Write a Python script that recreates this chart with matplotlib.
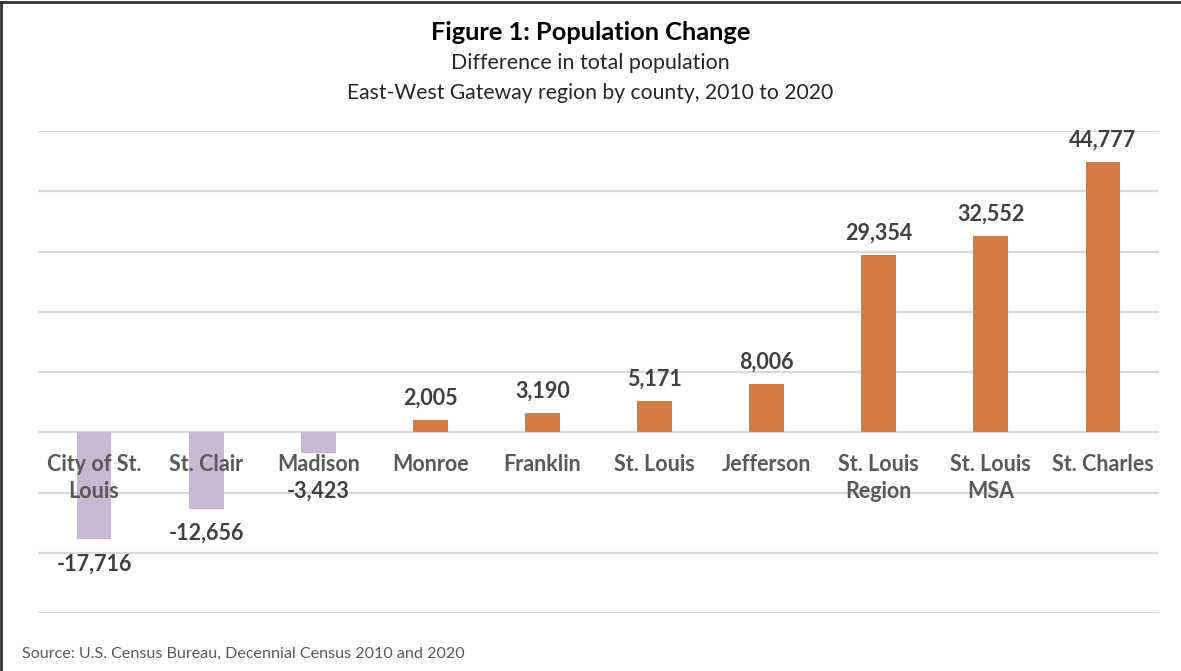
import matplotlib.pyplot as plt
import matplotlib.lines as mlines

# Population change by county, 2010 to 2020
counties = ['City of St.\nLouis', 'St. Clair', 'Madison', 'Monroe', 'Franklin',
            'St. Louis', 'Jefferson', 'St. Louis\nRegion', 'St. Louis\nMSA', 'St. Charles']
change = [-17716, -12656, -3423, 2005, 3190, 5171, 8006, 29354, 32552, 44777]

orange = '#D27B45'
purple = '#C9B8D3'

plt.rcParams['font.family'] = ['Lato', 'DejaVu Sans']

fig = plt.figure(figsize=(11.81, 6.71), dpi=100)
ax = fig.add_axes([38 / 1181, 1 - 613 / 671, 1121 / 1181, 482 / 671])

x = list(range(len(counties)))
colors = [purple if v < 0 else orange for v in change]
ax.bar(x, change, width=0.31, color=colors, zorder=2)

ax.set_xlim(-0.5, len(counties) - 0.5)
ax.set_ylim(-30000, 50000)
ax.set_yticks(range(-30000, 50001, 10000))
ax.yaxis.grid(True, color='#D9D9D9', linewidth=1.6, zorder=0)
ax.set_yticklabels([])
ax.tick_params(left=False, bottom=False, labelbottom=False)
for s in ax.spines.values():
    s.set_visible(False)

# category names sit just under the zero line
for i, name in enumerate(counties):
    ax.text(i, -3550, name, ha='center', va='top', fontsize=15.5,
            fontweight='bold', color='#595959', linespacing=1.4, zorder=3)

# value labels above positive bars, below negative ones (kept clear of the names)
for i, v in enumerate(change):
    if v >= 0:
        ypos = v + 3650
    else:
        ypos = min(v - 4150, -9800)
    ax.text(i, ypos, f'{v:,}', ha='center', va='center', fontsize=15.5,
            fontweight='bold', color='#404040', zorder=3)

fig.text(0.5, 1 - 33 / 671, 'Figure 1: Population Change', ha='center', va='center',
         fontsize=18.3, fontweight='bold', color='black')
fig.text(0.5, 1 - 63 / 671, 'Difference in total population', ha='center', va='center',
         fontsize=15.4, color='#262626')
fig.text(0.5, 1 - 93 / 671, 'East-West Gateway region by county, 2010 to 2020',
         ha='center', va='center', fontsize=15.2, color='#262626')
fig.text(22 / 1181, 1 - 654 / 671, 'Source: U.S. Census Bureau, Decennial Census 2010 and 2020',
         ha='left', va='center', fontsize=11.6, color='#595959')

# outer frame on top and left
fig.add_artist(mlines.Line2D([1.5 / 1181, 1], [1 - 1.5 / 671, 1 - 1.5 / 671],
                             color='#333333', linewidth=2, transform=fig.transFigure))
fig.add_artist(mlines.Line2D([1.5 / 1181, 1.5 / 1181], [0, 1 - 1.5 / 671],
                             color='#333333', linewidth=2, transform=fig.transFigure))

fig.savefig('out.png', dpi=100)
